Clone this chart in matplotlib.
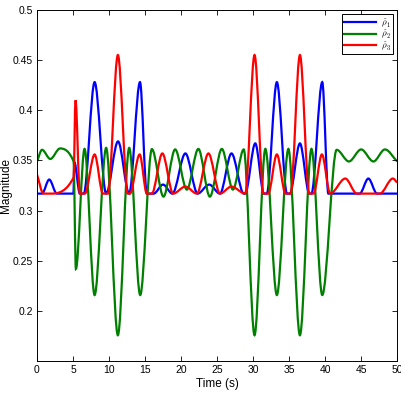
import numpy as np
import matplotlib
matplotlib.use("Agg")
import matplotlib.pyplot as plt
from matplotlib.path import Path
from matplotlib.patches import PathPatch
from matplotlib.lines import Line2D

# values (turning points and floor edges of each curve)
blue_t = [0.0, 0.7, 1.7, 2.75, 5.05, 5.2, 5.95, 6.5, 8.0, 9.6, 11.25, 12.8, 14.3, 15.25,
          16.2, 17.5, 18.8, 20.6, 22.3, 23.9, 25.4, 27.0, 28.7, 28.9, 30.3, 31.5, 31.9,
          33.3, 34.7, 35.1, 36.5, 37.8, 38.1, 39.6, 40.45, 44.8, 46.0, 47.2, 50.0]
blue_v = [0.317, 0.317, 0.331, 0.317, 0.317, 0.348, 0.317, 0.317, 0.428, 0.317, 0.369, 0.317, 0.428, 0.317,
          0.317, 0.326, 0.317, 0.357, 0.317, 0.326, 0.317, 0.357, 0.317, 0.317, 0.367, 0.317, 0.317,
          0.428, 0.317, 0.317, 0.367, 0.317, 0.317, 0.428, 0.317, 0.317, 0.332, 0.317, 0.317]

green_t = [0.0, 0.7, 1.85, 3.2, 5.08, 5.4, 6.6, 8.0, 9.6, 11.23, 12.8, 14.33, 15.95, 17.56,
           19.18, 20.8, 22.4, 24.0, 25.66, 27.2, 28.7, 30.2, 31.7, 33.3, 34.9, 36.5, 38.1,
           39.6, 41.6, 43.3, 45.0, 46.7, 48.3, 50.0]
green_v = [0.349, 0.3606, 0.3515, 0.362, 0.349, 0.242, 0.3615, 0.216, 0.3625, 0.176, 0.3625, 0.216, 0.3613, 0.314,
           0.361, 0.321, 0.3615, 0.314, 0.3615, 0.321, 0.361, 0.176, 0.3615, 0.216, 0.3615, 0.176, 0.3615,
           0.216, 0.3606, 0.349, 0.361, 0.349, 0.361, 0.349]

red_t = [0.0, 0.9, 2.0, 5.08, 5.35, 5.95, 6.65, 8.0, 9.15, 9.85, 11.23, 12.6, 12.9, 14.25, 15.25,
         15.95, 17.4, 18.9, 20.6, 22.2, 23.8, 25.4, 27.0, 28.9, 30.2, 31.45, 32.1, 33.3,
         34.5, 35.2, 36.5, 37.8, 38.4, 39.55, 40.7, 42.8, 44.4, 47.6, 49.4, 50.0]
red_v = [0.336, 0.317, 0.317, 0.333, 0.41, 0.317, 0.317, 0.356, 0.317, 0.317, 0.455, 0.317, 0.317, 0.356, 0.317,
         0.317, 0.357, 0.317, 0.324, 0.317, 0.357, 0.317, 0.324, 0.317, 0.455, 0.317, 0.317, 0.356,
         0.317, 0.317, 0.455, 0.317, 0.317, 0.356, 0.317, 0.332, 0.317, 0.317, 0.332, 0.328]

x_ticks = [0, 5, 10, 15, 20, 25, 30, 35, 40, 45, 50]
y_ticks = [0.2, 0.25, 0.3, 0.35, 0.4, 0.45, 0.5]
y_tick_labels = ["0.2", "0.25", "0.3", "0.35", "0.4", "0.45", "0.5"]
labels = [r"$\hat{\rho}_1$", r"$\hat{\rho}_2$", r"$\hat{\rho}_3$"]
colors = ["#0000ff", "#008000", "#ff0000"]

plt.rcParams["font.family"] = ["Liberation Sans", "DejaVu Sans"]
plt.rcParams["mathtext.fontset"] = "cm"


# smooth path through the read points (monotone cubic tangents, drawn as bezier curves)
def smooth_path(t, v):
    t = np.asarray(t, float)
    v = np.asarray(v, float)
    h = np.diff(t)
    d = np.diff(v) / h
    m = np.zeros_like(v)
    for i in range(1, len(v) - 1):
        if d[i - 1] * d[i] > 0:
            w1 = 2 * h[i] + h[i - 1]
            w2 = h[i] + 2 * h[i - 1]
            m[i] = (w1 + w2) / (w1 / d[i - 1] + w2 / d[i])
    m[0] = d[0]
    m[-1] = d[-1]
    verts = [(t[0], v[0])]
    codes = [Path.MOVETO]
    for i in range(len(t) - 1):
        verts.append((t[i] + h[i] / 3, v[i] + m[i] * h[i] / 3))
        verts.append((t[i + 1] - h[i] / 3, v[i + 1] - m[i + 1] * h[i] / 3))
        verts.append((t[i + 1], v[i + 1]))
        codes += [Path.CURVE4] * 3
    return Path(verts, codes)


fig = plt.figure(figsize=(4.02, 3.94), dpi=100)
ax = fig.add_axes([0.092, 0.083, 0.896, 0.892])

for t, v, c in zip([blue_t, green_t, red_t], [blue_v, green_v, red_v], colors):
    ax.add_patch(PathPatch(smooth_path(t, v), fill=False, edgecolor=c, lw=1.6))

ax.set_xlim(0, 50)
ax.set_ylim(0.15, 0.5)
ax.set_xticks(x_ticks)
ax.set_yticks(y_ticks)
ax.set_yticklabels(y_tick_labels)
ax.tick_params(direction="in", length=3.5, width=0.6, labelsize=7.5, top=True, right=True, pad=3)
for s in ax.spines.values():
    s.set_linewidth(0.7)

ax.set_xlabel("Time (s)", fontsize=8.5, labelpad=2)
ax.set_ylabel("Magnitude", fontsize=8.5, labelpad=1)
ax.yaxis.set_label_coords(-0.068, 0.5)

handles = [Line2D([], [], color=c, lw=1.6) for c in colors]
leg = ax.legend(handles, labels, loc="upper right", fontsize=6.5, fancybox=False,
                edgecolor="black", framealpha=1, handlelength=3.6, handletextpad=0.5,
                labelspacing=-0.15, borderpad=0.25, borderaxespad=0.45)
leg.get_frame().set_linewidth(0.7)

fig.savefig("out.png", dpi=100)
